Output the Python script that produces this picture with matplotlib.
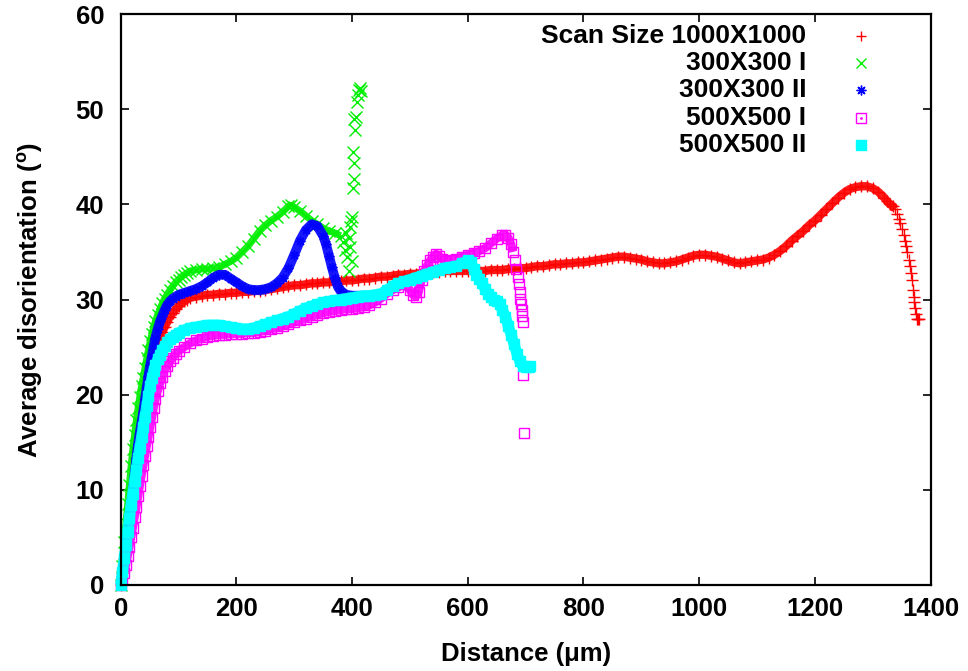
import matplotlib
matplotlib.use("Agg")
import matplotlib.pyplot as plt
import numpy as np

plt.rcParams['font.family'] = ['Liberation Sans', 'DejaVu Sans']
plt.rcParams['font.weight'] = 'bold'
plt.rcParams['mathtext.fontset'] = 'custom'
plt.rcParams['mathtext.rm'] = 'Liberation Sans:bold'
plt.rcParams['mathtext.bf'] = 'Liberation Sans:bold'

# ---------------- data ----------------
labels = ["Scan Size 1000X1000", "300X300 I", "300X300 II", "500X500 I", "500X500 II"]

red_x = [0, 3, 6, 9, 12, 15, 18, 21, 24, 27, 30, 33, 36, 39, 42, 45, 48, 51, 54, 57, 60, 64, 68, 72, 76, 80, 85, 90, 95, 100, 105, 110, 115,
         120, 130, 140, 150, 160, 170, 180, 190, 200, 210, 220, 230, 240, 250, 260, 270, 280, 290, 300, 310, 320, 330, 340, 350,
         360, 370, 380, 390, 400, 410, 420, 430, 440, 450, 460, 470, 480, 490, 500, 510, 520, 530, 540, 550, 560, 570, 580, 590,
         600, 610, 620, 630, 640, 650, 660, 670, 680, 690, 700, 710, 720, 730, 740, 750, 760, 770, 780, 790, 800, 810, 820, 830,
         840, 850, 860, 870, 880, 890, 900, 910, 920, 930, 940, 950, 960, 970, 980, 990, 1000, 1010, 1020, 1030, 1040, 1050, 1060,
         1070, 1080, 1090, 1100, 1110, 1120, 1130, 1140, 1150, 1160, 1170, 1180, 1190, 1200, 1210, 1220, 1230, 1240, 1250, 1260,
         1270, 1280, 1290, 1300, 1310, 1320, 1325, 1330, 1335, 1339, 1342, 1345, 1348, 1351, 1354, 1356, 1358, 1360, 1362, 1364,
         1366, 1368, 1370, 1371, 1372, 1373, 1375, 1377, 1379, 1380]
red_y = [0, 1.3, 2.7, 4.2, 5.7, 7.2, 8.7, 10.2, 11.7, 13.1, 14.5, 15.9, 17.2, 18.5, 19.7, 20.8, 21.8, 22.7, 23.5, 24.2, 24.8, 25.5, 26.0, 26.6, 27.1, 27.6, 28.2, 28.6, 29.0, 29.3, 29.6, 29.8, 30.0,
         30.2, 30.3, 30.4, 30.5, 30.5, 30.6, 30.6, 30.7, 30.7, 30.8, 30.8, 30.9, 30.9, 31.0, 31.1, 31.2, 31.3, 31.4, 31.5, 31.5, 31.6, 31.7, 31.7, 31.8,
         31.8, 31.9, 31.9, 32.0, 32.0, 32.1, 32.2, 32.2, 32.3, 32.4, 32.4, 32.5, 32.6, 32.6, 32.7, 32.7, 32.8, 32.8, 32.9, 32.9, 33.0, 33.0, 33.0, 33.0,
         33.0, 33.0, 33.0, 33.0, 33.1, 33.1, 33.1, 33.2, 33.2, 33.3, 33.3, 33.4, 33.5, 33.5, 33.6, 33.7, 33.7, 33.8, 33.8, 33.9, 33.9, 34.0, 34.1, 34.2,
         34.3, 34.4, 34.5, 34.5, 34.4, 34.3, 34.2, 34.0, 33.9, 33.8, 33.8, 33.9, 34.0, 34.2, 34.4, 34.6, 34.7, 34.7, 34.6, 34.5, 34.3, 34.1, 33.9,
         33.8, 33.9, 34.0, 34.1, 34.2, 34.4, 34.7, 35.1, 35.6, 36.2, 36.7, 37.2, 37.8, 38.3, 38.9, 39.5, 40.1, 40.7, 41.2, 41.6,
         41.8, 41.9, 41.9, 41.7, 41.3, 40.7, 40.3, 40.0, 39.8, 39.5, 39.0, 38.5, 38.0, 37.4, 36.8, 36.2, 35.6, 35.0, 34.2, 33.5,
         32.8, 32.0, 31.0, 30.3, 29.7, 29.1, 28.5, 28.0, 27.9, 28.0]

green_x = [0, 3, 6, 9, 12, 15, 18, 21, 24, 27, 30, 33, 36, 39, 42, 45, 48, 51, 54, 57, 60, 64, 68, 72, 76, 80, 85, 90, 95, 100, 105, 110, 115,
           120, 130, 140, 150, 160, 170, 180, 190, 200, 210, 220, 230, 240, 250, 260, 270, 280, 290, 295, 300, 310, 320, 330, 340,
           350, 360, 370, 380, 385, 388, 390, 392, 394, 395, 396, 397, 398, 399, 400, 401, 402, 403, 403.5, 404, 405, 407, 408, 410,
           412, 414, 415]
green_y = [0, 2.0, 4.5, 6.5, 8.5, 10.5, 12.5, 14.3, 15.8, 17.3, 18.6, 19.8, 20.9, 21.8, 22.8, 23.8, 24.7, 25.6, 26.4, 27.1, 27.7, 28.4, 29.0, 29.6, 30.1, 30.5, 31.0, 31.4, 31.8, 32.1, 32.4, 32.6, 32.8,
           33.0, 33.1, 33.2, 33.2, 33.3, 33.4, 33.7, 34.0, 34.4, 35.0, 35.6, 36.4, 37.2, 37.8, 38.3, 38.7, 39.2, 39.8, 39.9, 39.7, 39.3, 38.8, 38.3, 37.9,
           37.5, 37.2, 37.0, 36.7, 36.0, 35.2, 37.0, 34.5, 36.5, 33.0, 37.6, 35.5, 38.2, 38.7, 34.0, 41.7, 45.5, 44.3, 42.7, 49.0, 47.8, 49.2, 50.8, 51.5,
           52.0, 52.2, 51.9]

blue_x = [0, 3, 6, 9, 12, 15, 18, 21, 24, 27, 30, 33, 36, 39, 42, 45, 48, 51, 54, 57, 60, 64, 68, 72, 76, 80, 85, 90, 95, 100, 110,
          120, 130, 140, 150, 160, 170, 180, 190, 200, 210, 220, 230, 240, 250, 260, 270, 280, 290, 300, 310, 320, 330, 340, 350,
          355, 360, 365, 370, 375, 380, 390, 400, 410, 420, 428]
blue_y = [0, 1.5, 2.9, 4.2, 5.4, 6.9, 8.4, 9.8, 11.6, 13.3, 14.8, 16.0, 17.1, 18.2, 19.5, 20.8, 22.0, 23.1, 24.1, 25.1, 26.0, 26.9, 27.7, 28.3, 28.9, 29.4, 29.8, 30.1, 30.3, 30.5, 30.7,
          30.9, 31.1, 31.4, 31.8, 32.3, 32.6, 32.6, 32.2, 31.8, 31.4, 31.1, 31.0, 31.0, 31.1, 31.3, 31.7, 32.3, 33.3, 34.7, 36.2, 37.3, 37.9, 37.7, 36.7,
          35.8, 34.6, 33.4, 32.3, 31.4, 30.9, 30.5, 30.4, 30.4, 30.4, 30.4]

magenta_x = [0, 3, 6, 9, 12, 15, 18, 21, 24, 27, 30, 33, 36, 39, 42, 45, 48, 51, 54, 57, 60, 64, 68, 72, 76, 80, 85, 90, 95, 100, 110,
             120, 130, 140, 150, 160, 170, 180, 190, 200, 210, 220, 230, 240, 250, 260, 270, 280, 290, 300, 310, 320, 330, 340, 350,
             360, 370, 380, 390, 400, 410, 420, 430, 440, 450, 460, 470, 480, 490, 500, 505, 510, 515, 520, 525, 530, 535, 540, 545,
             550, 555, 560, 570, 580, 590, 600, 610, 620, 630, 640, 650, 660, 665, 670, 675, 678, 681, 684, 686, 688, 690, 691, 692,
             693, 694, 695, 696, 698]
magenta_y = [0, 0.6, 1.3, 2.1, 3.0, 4.0, 5.0, 6.0, 7.1, 8.2, 9.3, 10.4, 11.5, 12.6, 13.6, 14.6, 15.6, 16.6, 17.6, 18.6, 19.5, 20.4, 21.2, 21.9, 22.5, 23.0, 23.5, 23.9, 24.3, 24.6, 25.0,
             25.4, 25.7, 25.9, 26.1, 26.2, 26.3, 26.3, 26.4, 26.4, 26.4, 26.5, 26.5, 26.6, 26.7, 26.9, 27.0, 27.2, 27.4, 27.6, 27.8, 28.0, 28.2, 28.4, 28.6,
             28.7, 28.8, 28.9, 29.0, 29.0, 29.1, 29.2, 29.4, 29.7, 30.1, 30.6, 31.0, 31.3, 31.6, 31.0, 30.5, 30.3, 30.8, 32.0, 33.0, 33.6, 34.1, 34.5, 34.8,
             34.6, 34.3, 34.0, 34.1, 34.3, 34.5, 34.7, 34.9, 35.1, 35.4, 35.9, 36.4, 36.8, 36.8, 36.5, 35.8, 35.0, 34.2, 33.2, 32.4, 31.6, 30.8, 30.1, 29.5,
             28.9, 28.3, 27.6, 22.1, 16.0]

cyan_x = [0, 3, 6, 9, 12, 15, 18, 21, 24, 27, 30, 33, 36, 39, 42, 45, 48, 51, 54, 57, 60, 64, 68, 72, 76, 80, 85, 90, 95, 100, 110,
          120, 130, 140, 150, 160, 170, 180, 190, 200, 210, 220, 230, 240, 250, 260, 270, 280, 290, 300, 310, 320, 330, 340, 350,
          360, 370, 380, 390, 400, 410, 420, 430, 440, 450, 460, 470, 480, 490, 500, 510, 520, 530, 540, 550, 560, 570, 580, 590,
          600, 605, 610, 615, 620, 625, 630, 635, 640, 645, 650, 655, 660, 665, 670, 675, 680, 685, 690, 695, 700, 705, 708]
cyan_y = [0, 1.4, 2.8, 4.2, 5.6, 7.0, 8.4, 9.6, 10.9, 12.1, 13.3, 14.4, 15.5, 16.6, 17.7, 18.8, 19.9, 20.9, 21.7, 22.5, 23.1, 23.7, 24.2, 24.7, 25.1, 25.5, 25.8, 26.1, 26.3, 26.5, 26.8,
          27.0, 27.1, 27.2, 27.3, 27.3, 27.3, 27.2, 27.1, 27.0, 26.9, 26.9, 27.0, 27.2, 27.4, 27.6, 27.8, 28.0, 28.2, 28.5, 28.8, 29.1, 29.3, 29.5, 29.7,
          29.8, 29.9, 30.0, 30.1, 30.2, 30.3, 30.4, 30.4, 30.5, 30.6, 31.0, 31.4, 31.7, 31.9, 32.1, 32.3, 32.5, 32.7, 32.9, 33.1, 33.3, 33.4, 33.5, 33.8,
          34.1, 33.9, 33.2, 32.6, 32.2, 31.7, 31.1, 30.6, 30.3, 30.0, 29.8, 29.5, 28.9, 28.2, 27.2, 26.3, 25.3, 24.3, 23.5, 23.0, 22.9, 22.9, 23.0]

x_ticks = [0, 200, 400, 600, 800, 1000, 1200, 1400]
y_ticks = [0, 10, 20, 30, 40, 50, 60]

# ---------------- styles ----------------
colors = ['#ff0000', '#00ee00', '#0000ff', '#ff00ff', '#00ffff']
markers = ['+', 'x', (8, 2, 0), 's', 's']
msizes = [8, 8, 7, 6.5, 7]
fills = ['full', 'full', 'full', 'none', 'full']
band_lw = [6, 5, 7, 6, 8]              # width of the dense-point band
band_end = [1340, 384, 1e9, 680, 1e9]  # x beyond which points are sparse

series = [(red_x, red_y), (green_x, green_y), (blue_x, blue_y), (magenta_x, magenta_y), (cyan_x, cyan_y)]

fig = plt.figure(figsize=(9.68, 6.71), dpi=100)
ax = fig.add_axes([0.1247, 0.1282, 0.8366, 0.8509])

for (xs, ys), c, m, ms, fs, lw, xe in zip(series, colors, markers, msizes, fills, band_lw, band_end):
    n = sum(1 for v in xs if v <= xe)
    ax.plot(xs[:n], ys[:n], linestyle='-', linewidth=lw, color=c, alpha=0.9,
            solid_capstyle='butt', clip_on=False)
    ax.plot(xs, ys, linestyle='none', marker=m, markersize=ms, color=c, fillstyle=fs,
            markeredgewidth=1.0, clip_on=False)

ax.set_xlim(0, 1400)
ax.set_ylim(0, 60)
ax.set_xticks(x_ticks)
ax.set_yticks(y_ticks)
ax.tick_params(direction='in', length=6, width=1.2, top=True, right=True, labelsize=18.5)
ax.tick_params(axis='x', pad=9)
ax.tick_params(axis='y', pad=12)
for lab in ax.get_xticklabels() + ax.get_yticklabels():
    lab.set_fontweight('bold')
for s in ax.spines.values():
    s.set_linewidth(1.6)

ax.set_xlabel('Distance (\u03bcm)', fontsize=18.5, fontweight='bold', labelpad=15)
ax.set_ylabel(r'Average disorientation ($^{\mathbf{o}}$)', fontsize=18.5, fontweight='bold', labelpad=22)

# manual legend (text right-aligned, sample marker to the right)
leg_y = [0.9615, 0.9142, 0.8669, 0.8179, 0.7706]
leg_ms = [7, 7, 7, 6.5, 7]
for lab, c, m, ms, fs, yy in zip(labels, colors, markers, leg_ms, fills, leg_y):
    ax.text(0.8463, yy, lab, transform=ax.transAxes, ha='right', va='center',
            fontsize=19, fontweight='bold')
    ax.plot([0.914], [yy], transform=ax.transAxes, linestyle='none', marker=m, markersize=ms,
            color=c, fillstyle=fs, markeredgewidth=1.0, clip_on=False)
ax.plot([0.914], [leg_y[3]], transform=ax.transAxes, linestyle='none', marker='.',
        markersize=2, color=colors[3], clip_on=False)

fig.savefig('out.png', dpi=100)
